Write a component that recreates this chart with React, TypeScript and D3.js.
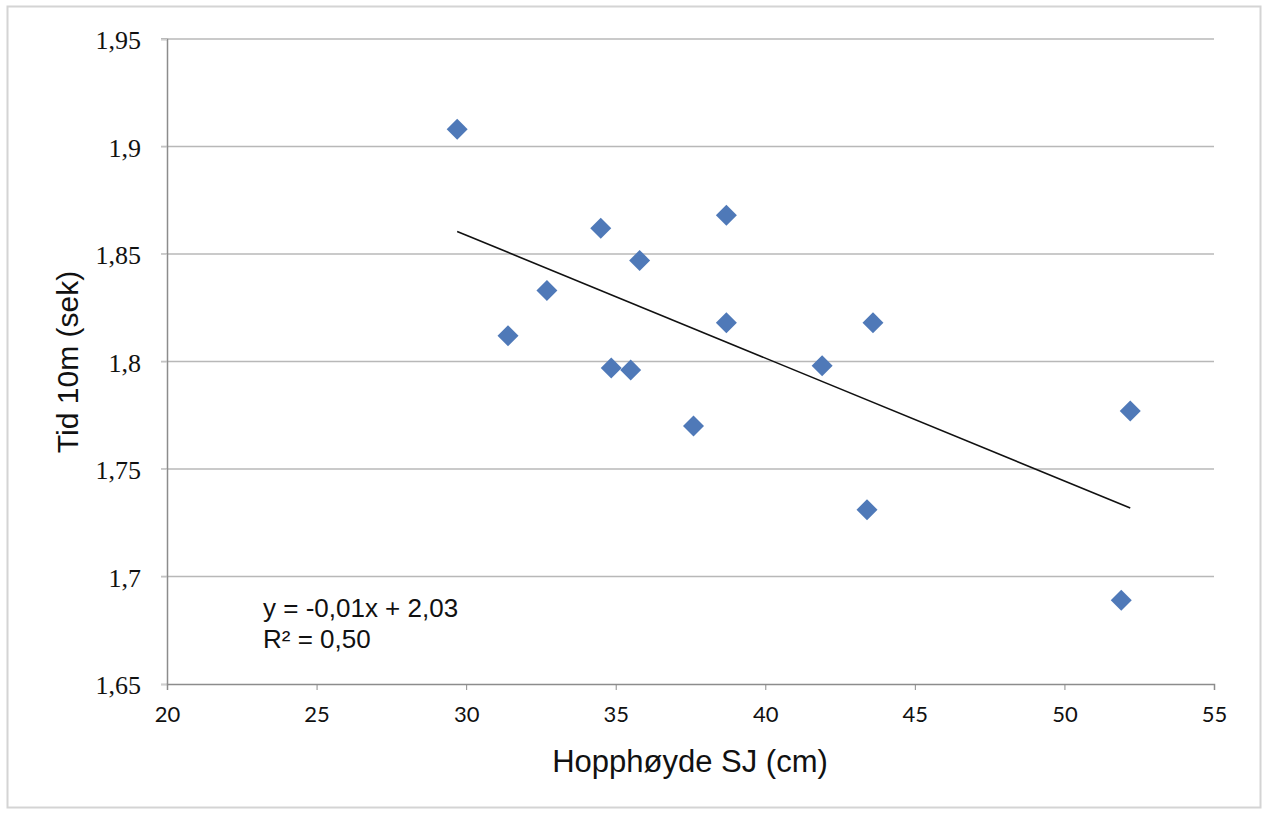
import React, { useEffect, useRef } from 'react';
import * as d3 from 'd3';

// Hopphøyde SJ (cm) vs Tid 10m (sek)
const jumpHeights = [29.7, 31.4, 32.7, 34.5, 34.85, 35.5, 35.8, 37.6, 38.7, 38.7, 41.9, 43.6, 43.4, 52.2, 51.9];
const sprintTimes = [1.908, 1.812, 1.833, 1.862, 1.797, 1.796, 1.847, 1.770, 1.868, 1.818, 1.798, 1.818, 1.731, 1.777, 1.689];

const xTicks = [20, 25, 30, 35, 40, 45, 50, 55];
const yTicks = [1.65, 1.7, 1.75, 1.8, 1.85, 1.9, 1.95];
const equationLines = ['y = -0,01x + 2,03', 'R² = 0,50'];

const W = 1262;
const H = 814;

const App = () => {
    const svgRef = useRef<SVGSVGElement>(null);

    useEffect(() => {
        document.body.style.margin = '0';
        drawChart();
    }, []);

    const drawChart = () => {
        const margin = { top: 39, right: 48, bottom: 130, left: 167 };
        const width = W - margin.left - margin.right;
        const height = H - margin.top - margin.bottom;

        const root = d3.select(svgRef.current);
        root.selectAll('*').remove();

        // outer chart frame
        root.append('rect')
            .attr('x', 7.5).attr('y', 6.5)
            .attr('width', 1253).attr('height', 801)
            .attr('fill', 'white')
            .attr('stroke', '#d4d4d4')
            .attr('stroke-width', 2);

        const svg = root.append('g')
            .attr('transform', `translate(${margin.left},${margin.top})`);

        const x = d3.scaleLinear().domain([20, 55]).range([0, width]);
        const y = d3.scaleLinear().domain([1.65, 1.95]).range([height, 0]);

        const fmt = (v: number) => String(+v.toFixed(2)).replace('.', ',');

        // horizontal gridlines
        svg.selectAll('.grid')
            .data(yTicks.filter(t => t > 1.65))
            .enter().append('line')
            .attr('x1', -6).attr('x2', width)
            .attr('y1', d => y(d)).attr('y2', d => y(d))
            .attr('stroke', '#b8b8b8')
            .attr('stroke-width', 1.5);

        // y axis
        const yAxis = d3.axisLeft(y).tickValues(yTicks).tickSize(6).tickFormat(d => fmt(+d));
        const gy = svg.append('g').call(yAxis);
        gy.select('.domain').attr('stroke', '#8c8c8c').attr('stroke-width', 1.5);
        gy.selectAll('.tick line').attr('stroke', '#cfcfcf');
        gy.selectAll('.tick text')
            .attr('x', -26)
            .attr('dy', '0.38em')
            .style('font-family', '"Liberation Serif", serif')
            .style('font-size', '26px')
            .attr('fill', '#111');

        // x axis
        const xAxis = d3.axisBottom(x).tickValues(xTicks).tickSize(6).tickFormat(d => String(d));
        const gx = svg.append('g').attr('transform', `translate(0,${height})`).call(xAxis);
        gx.select('.domain').attr('stroke', '#8c8c8c').attr('stroke-width', 1.5);
        gx.selectAll('.tick line').attr('stroke', '#8c8c8c');
        gx.selectAll('.tick text')
            .attr('y', 22)
            .attr('dy', '0.71em')
            .style('font-family', 'Lato, sans-serif')
            .style('font-size', '22px')
            .attr('fill', '#111');

        // linear trendline (least squares)
        const mx = d3.mean(jumpHeights) as number;
        const my = d3.mean(sprintTimes) as number;
        let sxy = 0, sxx = 0;
        jumpHeights.forEach((v, i) => {
            sxy += (v - mx) * (sprintTimes[i] - my);
            sxx += (v - mx) * (v - mx);
        });
        const slope = sxy / sxx;
        const intercept = my - slope * mx;
        const [x0, x1] = d3.extent(jumpHeights) as [number, number];
        svg.append('line')
            .attr('x1', x(x0)).attr('y1', y(intercept + slope * x0))
            .attr('x2', x(x1)).attr('y2', y(intercept + slope * x1))
            .attr('stroke', '#111')
            .attr('stroke-width', 1.6);

        // data points (diamonds)
        const diamond = d3.symbol().type(d3.symbolSquare).size(220);
        svg.selectAll('.pt')
            .data(jumpHeights.map((v, i) => ({ x: v, y: sprintTimes[i] })))
            .enter().append('path')
            .attr('d', diamond)
            .attr('transform', d => `translate(${x(d.x)},${y(d.y)}) rotate(45)`)
            .attr('fill', '#4f79b8');

        // equation label
        svg.append('text')
            .attr('x', 96).attr('y', 578)
            .style('font-family', '"Liberation Sans", Arial, sans-serif')
            .style('font-size', '26px')
            .attr('fill', '#111')
            .selectAll('tspan')
            .data(equationLines)
            .enter().append('tspan')
            .attr('x', 96)
            .attr('dy', (d, i) => (i === 0 ? 0 : 31))
            .text(d => d);

        // axis titles
        root.append('text')
            .attr('x', 690).attr('y', 772)
            .attr('text-anchor', 'middle')
            .style('font-family', '"Liberation Sans", Arial, sans-serif')
            .style('font-size', '31px')
            .attr('fill', '#111')
            .text('Hopphøyde SJ (cm)');

        root.append('text')
            .attr('transform', `translate(78,${margin.top + 323}) rotate(-90)`)
            .attr('text-anchor', 'middle')
            .style('font-family', '"Liberation Sans", Arial, sans-serif')
            .style('font-size', '30px')
            .attr('fill', '#111')
            .text('Tid 10m (sek)');
    };

    return <svg ref={svgRef} width={W} height={H} style={{ display: 'block' }}></svg>;
};

export default App;
